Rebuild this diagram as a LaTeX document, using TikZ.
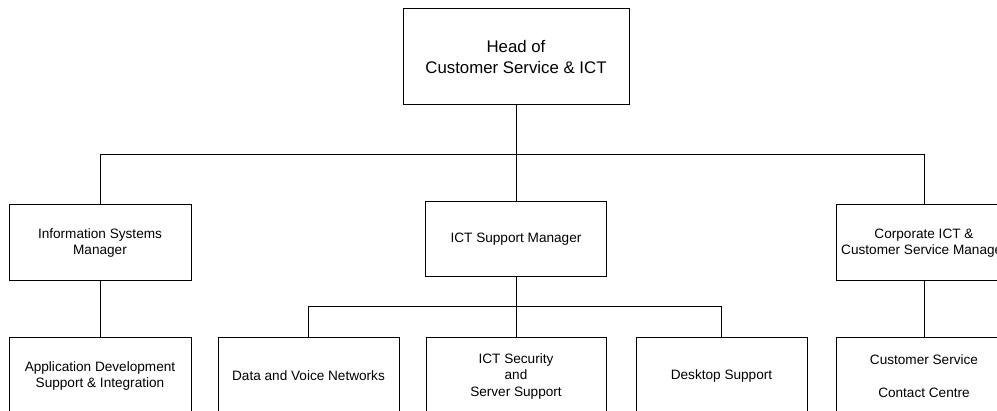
\documentclass[tikz,border=0pt]{standalone}
\usepackage{fontspec}
\setmainfont{Liberation Sans}
\usetikzlibrary{shapes}

\begin{document}
\begin{tikzpicture}[x=1pt,y=-1pt]
 % style des boites
  \tikzstyle{chef}=[rectangle,draw,line width=1pt,inner sep=0pt,align=center,
    minimum width=226pt,minimum height=96pt,font=\fontsize{16.8}{21}\selectfont]
  \tikzstyle{poste}=[rectangle,draw,line width=1pt,inner sep=0pt,align=center,
    minimum height=76pt,font=\fontsize{13.6}{16.5}\selectfont]
 % style des liaisons
  \tikzstyle{lien}=[line width=1pt]
 % cadre de l'image
  \useasboundingbox (0,0) rectangle (997,411);
  \clip (0,0) rectangle (997,411);
 % placement des noeuds
  \node[chef] (head) at (516,57) {Head of\\Customer Service \& ICT};
  \node[poste,minimum width=182pt] (infosys) at (100,243) {Information Systems\\Manager};
  \node[poste,minimum width=181pt,minimum height=75pt] (ictman) at (516,239.5) {ICT Support Manager};
  \node[poste,minimum width=176pt] (corp) at (924,243) {Corporate ICT \&\\Customer Service Manager};
  \node[poste,minimum width=182pt] (appdev) at (100,376) {Application Development\\Support \& Integration};
  \node[poste,minimum width=181pt] (datavoice) at (308.5,376) {Data and Voice Networks};
  \node[poste,minimum width=180pt] (ictsec) at (516,376) {ICT Security\\and\\Server Support};
  \node[poste,minimum width=171pt] (desktop) at (721.5,376) {Desktop Support};
  \node[poste,minimum width=176pt] (custserv) at (924,376) {Customer Service\\[16.5pt]Contact Centre};
  \coordinate (bus) at (516,155);
  \coordinate (bussupport) at (516,307);
 % placement des liaisons
  \draw[lien] (head) -- (bus);
  \draw[lien] (bus) -| (infosys);
  \draw[lien] (bus) -- (ictman);
  \draw[lien] (bus) -| (corp);
  \draw[lien] (infosys) -- (appdev);
  \draw[lien] (ictman) -- (bussupport);
  \draw[lien] (bussupport) -| (datavoice);
  \draw[lien] (bussupport) -- (ictsec);
  \draw[lien] (bussupport) -| (desktop);
  \draw[lien] (corp) -- (custserv);
\end{tikzpicture}
\end{document}
